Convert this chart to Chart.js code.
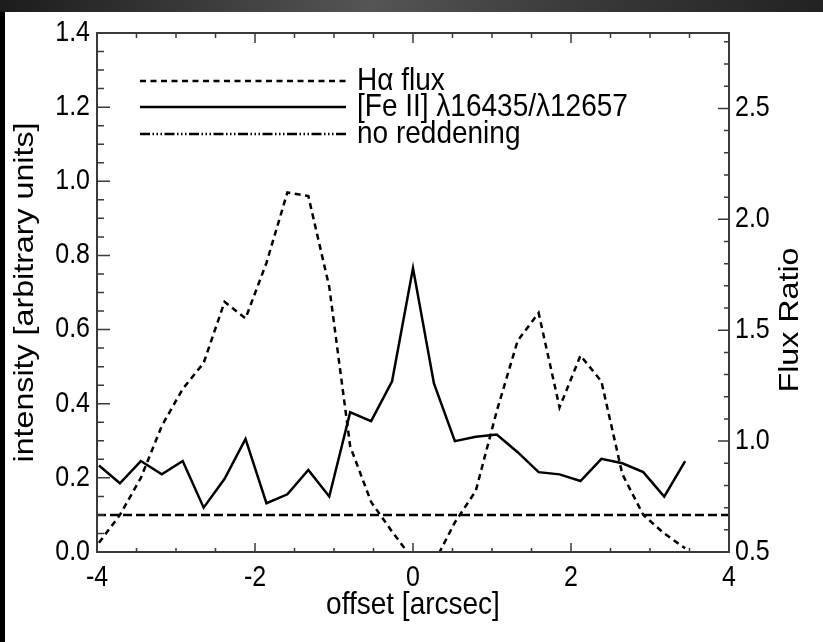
<!DOCTYPE html>
<html>
<head>
<meta charset="utf-8">
<script src="https://cdn.jsdelivr.net/npm/chart.js@4.4.1/dist/chart.umd.min.js"></script>
<style>
  html, body { margin: 0; padding: 0; background: #000; }
  body { width: 823px; height: 642px; position: relative; overflow: hidden; }
  #bar { position: absolute; left: 0; top: 0; width: 823px; height: 12px;
         background: linear-gradient(to right, #1c1c1c, #555 45%, #3a3a3a 70%, #222); }
  #wrap { position: absolute; left: 5px; top: 12px; width: 818px; height: 630px; background: #fff; }
</style>
</head>
<body>
<div id="bar"></div>
<div id="wrap"><canvas id="fluxChart" width="818" height="630"></canvas></div>
<script>
// ── Data ──────────────────────────────────────────────────────
const offsets = [-3.975, -3.71, -3.445, -3.18, -2.915, -2.65, -2.385, -2.12, -1.855, -1.59,
                 -1.325, -1.06, -0.795, -0.53, -0.265, 0, 0.265, 0.53, 0.795, 1.06,
                 1.325, 1.59, 1.855, 2.12, 2.385, 2.65, 2.915, 3.18, 3.445];
const haFlux  = [0.025, 0.10, 0.20, 0.34, 0.44, 0.51, 0.675, 0.63, 0.78, 0.97,
                 0.96, 0.715, 0.285, 0.135, 0.055, -0.02, -0.03, 0.08, 0.165, 0.38,
                 0.57, 0.645, 0.39, 0.53, 0.46, 0.21, 0.10, 0.05, 0.01];
const feRatio = [0.89, 0.81, 0.91, 0.85, 0.91, 0.70, 0.83, 1.01, 0.72, 0.76,
                 0.87, 0.75, 1.13, 1.09, 1.27, 1.78, 1.26, 1.00, 1.02, 1.03,
                 0.95, 0.86, 0.85, 0.82, 0.92, 0.90, 0.86, 0.75, 0.91];
const noReddeningX = [-4, 4];
const noReddeningY = [0.667, 0.667];

const xTicks  = [-4, -2, 0, 2, 4];
const yTicks  = [0.0, 0.2, 0.4, 0.6, 0.8, 1.0, 1.2, 1.4];
const y2Ticks = [0.5, 1.0, 1.5, 2.0, 2.5];

const legendLabels = ['H\u03b1 flux', '[Fe II] \u03bb16435/\u03bb12657', 'no reddening'];
const xTitle = 'offset [arcsec]';
const yTitle = 'intensity [arbitrary units]';
const y2Title = 'Flux Ratio';

const FONT = 'Liberation Sans, Arial, Helvetica, sans-serif';
const STRETCH = 1.15;   // IDL text in the picture is taller than it is wide
const pts = (xs, ys) => xs.map((x, i) => ({ x, y: ys[i] }));

function text(ctx, str, x, y, size, align, rotate) {
  ctx.save();
  ctx.translate(x, y);
  ctx.scale(1, STRETCH);
  if (rotate) ctx.rotate(-Math.PI / 2);
  ctx.font = size + 'px ' + FONT;
  ctx.fillStyle = '#000';
  ctx.textAlign = align;
  ctx.textBaseline = 'middle';
  ctx.fillText(str, 0, 0);
  ctx.restore();
}

// ── Inward ticks, frame, labels, legend ───────────────────────
const idlFrame = {
  id: 'idlFrame',
  afterDraw(chart) {
    const { ctx, chartArea: a, scales: { x, y, y2 } } = chart;
    ctx.save();
    ctx.strokeStyle = '#3a3a3a';
    ctx.lineWidth = 1.5;
    ctx.beginPath();
    for (let v = -4; v <= 4.0001; v += 0.5) {
      const px = x.getPixelForValue(v);
      const major = Math.abs(v / 2 - Math.round(v / 2)) < 1e-6;
      ctx.moveTo(px, a.bottom); ctx.lineTo(px, a.bottom - (major ? 9 : 4));
      ctx.moveTo(px, a.top);    ctx.lineTo(px, a.top + (major ? 10 : 5));
    }
    for (let i = 0; i <= 28; i++) {
      const py = y.getPixelForValue(i * 0.05);
      ctx.moveTo(a.left, py); ctx.lineTo(a.left + (i % 4 === 0 ? 13 : 7), py);
    }
    for (let i = 5; i <= 28; i++) {
      const py = y2.getPixelForValue(i / 10);
      ctx.moveTo(a.right, py); ctx.lineTo(a.right - (i % 5 === 0 ? 11 : 5), py);
    }
    ctx.stroke();
    ctx.lineWidth = 2;
    ctx.strokeRect(a.left, a.top, a.right - a.left, a.bottom - a.top);
    ctx.restore();

    // tick labels
    x.ticks.forEach(t => text(ctx, String(t.value), x.getPixelForValue(t.value), a.bottom + 26, 25, 'center'));
    y.ticks.forEach(t => text(ctx, t.value.toFixed(1), a.left - 7, y.getPixelForValue(t.value), 25, 'right'));
    y2.ticks.forEach(t => text(ctx, t.value.toFixed(1), a.right + 6, y2.getPixelForValue(t.value), 25, 'left'));

    // axis titles
    text(ctx, xTitle, (a.left + a.right) / 2, a.bottom + 53, 28, 'center');
    text(ctx, yTitle, 20, (a.top + a.bottom) / 2, 28, 'center', true);
    text(ctx, y2Title, 785, 308, 28, 'center', true);

    // legend
    const rows = [69, 95, 122];
    chart.data.datasets.forEach((ds, i) => {
      ctx.save();
      ctx.beginPath();
      ctx.strokeStyle = '#000';
      ctx.lineWidth = ds.borderWidth;
      ctx.setLineDash(ds.legendDash || ds.borderDash || []);
      ctx.moveTo(135, rows[i]); ctx.lineTo(341, rows[i]);
      ctx.stroke();
      ctx.restore();
      text(ctx, legendLabels[i], 352, rows[i], 28, 'left');
    });
  }
};

new Chart(document.getElementById('fluxChart'), {
  type: 'line',
  data: {
    datasets: [
      { label: legendLabels[0], data: pts(offsets, haFlux), yAxisID: 'y',
        borderColor: '#000', borderWidth: 2.5, borderDash: [6, 4.5] },
      { label: legendLabels[1], data: pts(offsets, feRatio), yAxisID: 'y2',
        borderColor: '#000', borderWidth: 2.5 },
      { label: legendLabels[2], data: pts(noReddeningX, noReddeningY), yAxisID: 'y2',
        borderColor: '#000', borderWidth: 2.5, borderDash: [9, 4],
        legendDash: [10, 2.5, 1.5, 2.5, 1.5, 2.5, 1.5, 2.5] }
    ]
  },
  options: {
    responsive: false,
    animation: false,
    devicePixelRatio: 1,
    layout: { padding: { top: 21, left: 0, right: 0, bottom: 0 } },
    elements: { point: { radius: 0 }, line: { tension: 0, borderCapStyle: 'butt' } },
    plugins: { legend: { display: false }, tooltip: { enabled: false } },
    scales: {
      x: {
        type: 'linear', min: -4, max: 4,
        afterFit: s => { s.height = 90; },
        afterBuildTicks: s => { s.ticks = xTicks.map(value => ({ value })); },
        grid: { display: false, drawTicks: false },
        border: { display: false },
        ticks: { display: false }
      },
      y: {
        position: 'left', min: 0, max: 1.4,
        afterFit: s => { s.width = 92; },
        afterBuildTicks: s => { s.ticks = yTicks.map(value => ({ value })); },
        grid: { display: false, drawTicks: false },
        border: { display: false },
        ticks: { display: false }
      },
      y2: {
        position: 'right', min: 0.5, max: 2.84,
        afterFit: s => { s.width = 94; },
        afterBuildTicks: s => { s.ticks = y2Ticks.map(value => ({ value })); },
        grid: { display: false, drawTicks: false },
        border: { display: false },
        ticks: { display: false }
      }
    }
  },
  plugins: [idlFrame]
});
</script>
</body>
</html>
